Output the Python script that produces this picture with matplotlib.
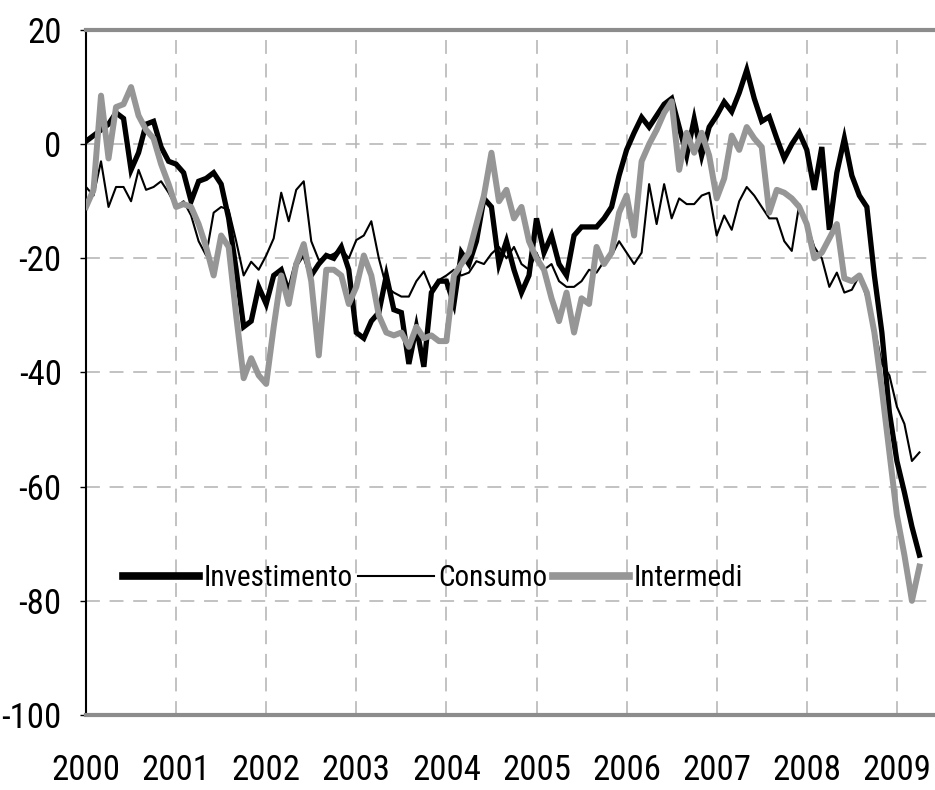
import numpy as np
import matplotlib
matplotlib.use("Agg")
import matplotlib.pyplot as plt
from matplotlib import font_manager
from matplotlib.lines import Line2D

# monthly values, Jan 2000 .. Apr 2009
investimento = [
    0.5, 1.5, 2.5, 3.5, 5.5, 4.5, -4.5, -1.5, 3.5, 4, -0.5, -3,
    -3.5, -5, -10, -6.5, -6, -5, -7, -13, -22, -32, -31, -25,
    -28, -23, -22, -26, -21, -19, -23, -21, -19.5, -20, -18, -22,
    -33, -34, -31, -29.5, -23, -29, -29.5, -38.5, -32, -39, -26, -24,
    -24, -28, -19, -21, -17, -9.5, -11, -21, -17, -22, -26, -23,
    -13, -19, -16, -21, -23, -16, -14.5, -14.5, -14.5, -13, -11, -5.5,
    -1, 2, 4.7, 3, 5, 7, 8, 3, -2, 4.4, -2, 3,
    5, 7.4, 5.7, 9, 13, 8, 4, 4.8, 1, -2.5, 0, 2,
    -1, -8, -0.5, -15, -5, 1, -5.5, -9, -11, -23, -33, -47,
    -55.5, -61, -67, -72,
]
consumo = [
    -7.5, -9, -3, -11, -7.5, -7.5, -10, -4.5, -8, -7.5, -6.5, -8.5,
    -11, -10, -12.5, -17, -19.5, -12, -11, -11.5, -17, -23, -20.6, -22,
    -19.5, -16.5, -8.5, -13.5, -8, -6.5, -17, -20.3, -19.8, -19.2, -18.3, -20,
    -16.8, -16, -13.5, -20, -25, -26, -26.7, -26.7, -24, -22.3, -25.5, -23.8,
    -23, -22, -23, -22.5, -20.5, -21, -19.2, -18, -20, -18, -21, -22,
    -19, -22, -21, -24, -25, -25, -24, -22, -22.5, -20.5, -19.5, -17,
    -19, -21, -19, -7, -14, -7, -13, -9.5, -10.5, -10.5, -9, -8.5,
    -16, -12.5, -15, -10, -7.5, -9, -11, -13, -13, -17, -18.7, -10.5,
    -14, -18, -20, -25, -22.5, -26, -25.5, -23, -27, -32, -38.5, -40.5,
    -46, -49, -55.5, -54,
]
intermedi = [
    -11, -8, 8.5, -2.5, 6.5, 7, 10, 5, 2.5, 1, -3.5, -7,
    -11, -10.5, -11, -14, -18, -23, -16, -18, -30, -41, -37.5, -40.5,
    -42, -32, -23, -28, -21, -17.5, -24, -37, -22, -22, -23, -28,
    -25, -19.5, -23, -30, -33, -33.5, -33, -35.5, -32, -34, -33.5, -34.5,
    -34.5, -23, -21, -19, -14, -9, -1.5, -10, -8, -13, -11, -17,
    -20, -22, -27, -31, -26, -33, -27, -28, -18, -21, -19, -12,
    -9, -16, -3, 0, 2.5, 5.5, 7.5, -4.5, 2, -1.5, 2, -2,
    -9.5, -6, 1.5, -1, 3, 1, -0.5, -12, -8, -8.5, -9.5, -11,
    -14, -20, -19, -16.5, -14, -23.5, -24, -23, -26, -33, -43, -54,
    -65, -72, -80, -74,
]
years = list(range(2000, 2010))
y_ticks = [-100, -80, -60, -40, -20, 0, 20]
labels = ["Investimento", "Consumo", "Intermedi"]

# narrow font if there is one
names = {f.name for f in font_manager.fontManager.ttflist}
narrow = "Liberation Sans"
for cand in ["Liberation Sans Narrow", "DejaVu Sans Condensed", "Roboto Condensed"]:
    if cand in names:
        narrow = cand
        break
plt.rcParams["font.family"] = [narrow, "DejaVu Sans"]
plt.rcParams["lines.scale_dashes"] = False

t = 2000 + np.arange(len(investimento)) / 12.0

fig = plt.figure(figsize=(9.35, 7.9), dpi=100)
ax = fig.add_axes([86 / 935, 75 / 790, 849 / 935, 685 / 790])

gray = "#969696"
ax.plot(t, investimento, color="black", lw=3.8, solid_joinstyle="miter", zorder=3)
ax.plot(t, consumo, color="black", lw=1.5, zorder=4)
ax.plot(t, intermedi, color=gray, lw=4.3, zorder=5)

ax.set_xlim(2000, 2000 + 849 / 90.1)
ax.set_ylim(-100, 20)
ax.set_xticks(years)
ax.set_xticklabels([str(y) for y in years])
ax.set_yticks(y_ticks)
ax.set_yticklabels([str(v) for v in y_ticks])

ax.grid(True, color="#b8b8b8", lw=1.2, linestyle=(0, (10, 7)), zorder=1)
ax.set_axisbelow(True)

ax.tick_params(axis="x", length=0, pad=28, labelsize=25)
ax.tick_params(axis="y", length=4.5, width=1, direction="out", pad=13, labelsize=25)

for s in ["top", "bottom"]:
    ax.spines[s].set_color("#8c8c8c")
    ax.spines[s].set_linewidth(3)
ax.spines["left"].set_color("black")
ax.spines["left"].set_linewidth(1.5)
ax.spines["right"].set_visible(False)

handles = [
    Line2D([], [], color="black", lw=5.5),
    Line2D([], [], color="black", lw=1.5),
    Line2D([], [], color=gray, lw=5.5),
]
ax.legend(handles, labels, loc="center left", bbox_to_anchor=(0.03, 0.2),
          ncol=3, frameon=False, fontsize=21, handlelength=2.6,
          handletextpad=0.15, columnspacing=0.2, borderaxespad=0)

fig.savefig("out.png", dpi=100)
